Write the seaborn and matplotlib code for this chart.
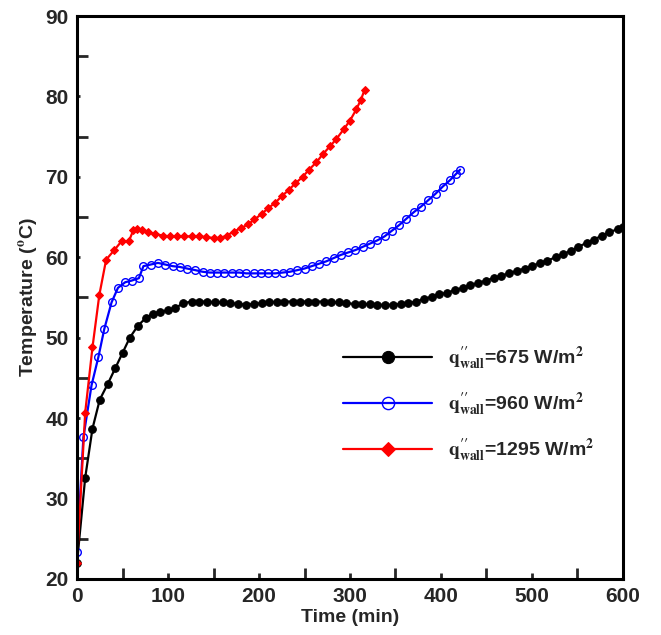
import numpy as np
import pandas as pd
import matplotlib
matplotlib.use("Agg")
import matplotlib.pyplot as plt
import seaborn as sns
from matplotlib.ticker import MultipleLocator

# Data
t_675 = [0, 9, 17, 25, 34, 42, 50, 58, 67, 76, 84, 91, 100, 108, 117, 126, 134, 143, 152, 160,
         168, 177, 186, 194, 203, 211, 220, 228, 237, 245, 254, 262, 271, 279, 288, 296, 305, 313,
         322, 330, 339, 347, 356, 364, 373, 381, 390, 398, 407, 415, 424, 432, 441, 449, 458, 466,
         475, 483, 492, 500, 509, 517, 526, 534, 543, 551, 560, 568, 577, 585, 594, 600]
T_675 = [22.0, 32.6, 38.7, 42.3, 44.3, 46.2, 48.1, 50.0, 51.5, 52.5, 53.0, 53.2, 53.4, 53.7, 54.3,
         54.5, 54.5, 54.5, 54.4, 54.4, 54.3, 54.2, 54.1, 54.2, 54.3, 54.4, 54.5, 54.5, 54.5, 54.5,
         54.5, 54.5, 54.5, 54.4, 54.4, 54.3, 54.2, 54.2, 54.2, 54.1, 54.1, 54.1, 54.2, 54.3, 54.5,
         54.8, 55.1, 55.4, 55.6, 55.9, 56.2, 56.5, 56.8, 57.1, 57.4, 57.7, 58.0, 58.3, 58.6, 58.9,
         59.3, 59.6, 60.0, 60.4, 60.8, 61.3, 61.8, 62.2, 62.7, 63.1, 63.5, 63.8]

t_960 = [0, 7, 16, 23.5, 30, 38, 45, 53, 60, 68, 73, 81, 89, 97, 105, 113, 121, 130, 138, 146,
         154, 162, 170, 178, 186, 194, 202, 210, 218, 226, 234, 242, 250, 258, 266, 274, 282, 290,
         298, 306, 314, 322, 330, 338, 346, 354, 362, 370, 378, 386, 394, 402, 410, 416, 421]
T_960 = [23.3, 37.6, 44.1, 47.6, 51.1, 54.4, 56.2, 56.9, 57.1, 57.4, 58.9, 59.1, 59.3, 59.1, 58.9,
         58.8, 58.6, 58.4, 58.2, 58.1, 58.1, 58.1, 58.1, 58.1, 58.0, 58.0, 58.0, 58.0, 58.0, 58.1,
         58.2, 58.4, 58.6, 58.9, 59.2, 59.5, 59.9, 60.3, 60.6, 60.9, 61.3, 61.7, 62.1, 62.6, 63.3,
         64.0, 64.8, 65.6, 66.3, 67.1, 67.9, 68.8, 69.6, 70.3, 70.9]

t_1295 = [0, 9, 17, 24.5, 32, 41, 49, 57, 62, 66, 71, 78, 86, 94, 102, 110, 118, 126, 134, 142,
          150, 157, 165, 172, 180, 188, 195, 203, 210, 218, 225, 233, 240, 248, 255, 263, 270, 278,
          285, 293, 300, 307, 312, 316]
T_1295 = [22.0, 40.7, 48.8, 55.3, 59.7, 60.9, 62.0, 62.0, 63.4, 63.5, 63.4, 63.1, 62.9, 62.7, 62.6,
          62.6, 62.6, 62.6, 62.6, 62.5, 62.4, 62.4, 62.7, 63.2, 63.6, 64.1, 64.7, 65.4, 66.1, 66.8,
          67.6, 68.4, 69.2, 70.0, 70.9, 71.8, 72.8, 73.8, 74.7, 75.9, 77.0, 78.4, 79.6, 80.8]

labels = [r"$\mathbf{q}^{\prime\prime}_{\mathrm{wall}}$=675 W/m$^{\mathbf{2}}$",
          r"$\mathbf{q}^{\prime\prime}_{\mathrm{wall}}$=960 W/m$^{\mathbf{2}}$",
          r"$\mathbf{q}^{\prime\prime}_{\mathrm{wall}}$=1295 W/m$^{\mathbf{2}}$"]

sns.set_style("ticks")
plt.rcParams["font.family"] = ["Liberation Sans", "DejaVu Sans"]
plt.rcParams["font.weight"] = "bold"
plt.rcParams["mathtext.fontset"] = "stix"

fig = plt.figure(figsize=(6.61, 6.35), dpi=100)
ax = fig.add_axes([0.1165, 0.0882, 0.826, 0.8866])

sns.lineplot(x=t_675, y=T_675, ax=ax, color="black", lw=1.6, marker="o", markersize=5.5,
             markerfacecolor="black", markeredgecolor="black", label=labels[0])
sns.lineplot(x=t_960, y=T_960, ax=ax, color="blue", lw=1.6, marker="o", markersize=5.5,
             markerfacecolor="none", markeredgecolor="blue", markeredgewidth=1.0, label=labels[1])
sns.lineplot(x=t_1295, y=T_1295, ax=ax, color="red", lw=1.6, marker="D", markersize=4.5,
             markerfacecolor="red", markeredgecolor="red", label=labels[2])

ax.set_xlim(0, 600)
ax.set_ylim(20, 90)
ax.xaxis.set_major_locator(MultipleLocator(100))
ax.xaxis.set_minor_locator(MultipleLocator(50))
ax.yaxis.set_major_locator(MultipleLocator(10))
ax.yaxis.set_minor_locator(MultipleLocator(5))
ax.tick_params(axis="both", which="both", direction="in", width=2, labelsize=15, top=False, right=False)
ax.tick_params(axis="x", which="major", length=4, pad=6)
ax.tick_params(axis="x", which="minor", length=8)
ax.tick_params(axis="y", which="major", length=2, pad=6)
ax.tick_params(axis="y", which="minor", length=8)
for lab in ax.get_xticklabels() + ax.get_yticklabels():
    lab.set_fontweight("bold")
for sp in ax.spines.values():
    sp.set_visible(True)
    sp.set_linewidth(2.2)
    sp.set_color("black")

ax.set_xlabel("Time (min)", fontsize=14, fontweight="bold", labelpad=2)
ax.set_ylabel(r"Temperature ($^{\mathrm{o}}$C)", fontsize=14, fontweight="bold", labelpad=4)

leg = ax.legend(loc="upper left", bbox_to_anchor=(0.473, 0.43), frameon=False, fontsize=14,
                handlelength=4.6, handletextpad=0.8, labelspacing=0.95, borderaxespad=0,
                markerscale=1.6)
for txt in leg.get_texts():
    txt.set_fontweight("bold")

fig.savefig("out.png", dpi=100)
